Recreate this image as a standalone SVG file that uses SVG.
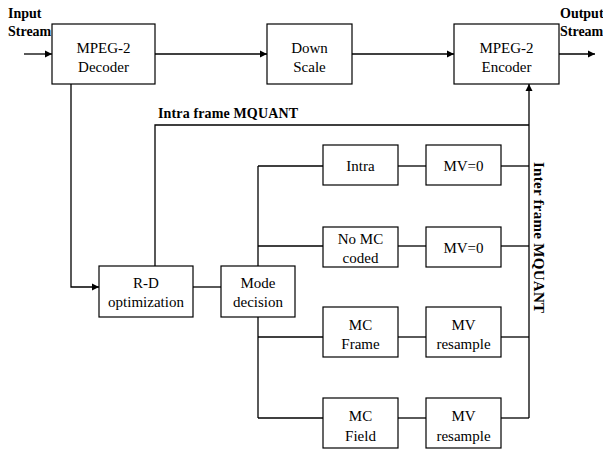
<svg xmlns="http://www.w3.org/2000/svg" width="603" height="451" viewBox="0 0 603 451">
<defs>
<marker id="arr" markerWidth="8" markerHeight="8" refX="7" refY="4" orient="auto" markerUnits="userSpaceOnUse">
<path d="M0,0.5 L7,4 L0,7.5 Z" fill="#000"/>
</marker>
<style>
.box{fill:#fff;stroke:#000;stroke-width:1.2}
.t{font-size:15px;fill:#000;text-anchor:middle}
.b{font-size:14px;font-weight:bold;fill:#000}
.ln{fill:none;stroke:#000;stroke-width:1.3}
</style>
</defs>
<rect width="603" height="451" fill="#fff"/>
<g id="connectors">
<line class="ln" x1="24" y1="54" x2="52" y2="54" marker-end="url(#arr)"/>
<line class="ln" x1="155" y1="54" x2="267" y2="54" marker-end="url(#arr)"/>
<line class="ln" x1="352" y1="54" x2="454" y2="54" marker-end="url(#arr)"/>
<line class="ln" x1="559" y1="54" x2="595" y2="54" marker-end="url(#arr)"/>
<polyline class="ln" points="71,84 71,287 99,287" marker-end="url(#arr)"/>
<line class="ln" x1="193" y1="287" x2="221" y2="287"/>
<polyline class="ln" points="155,266 155,125 529,125"/>
<line class="ln" x1="529" y1="418" x2="529" y2="84" marker-end="url(#arr)"/>
<line class="ln" x1="258" y1="166" x2="258" y2="418"/>
<line class="ln" x1="258" y1="166" x2="323" y2="166"/>
<line class="ln" x1="258" y1="246" x2="323" y2="246"/>
<line class="ln" x1="258" y1="337" x2="323" y2="337"/>
<line class="ln" x1="258" y1="418" x2="323" y2="418"/>
<line class="ln" x1="398" y1="166" x2="426" y2="166"/>
<line class="ln" x1="398" y1="246" x2="426" y2="246"/>
<line class="ln" x1="398" y1="337" x2="426" y2="337"/>
<line class="ln" x1="398" y1="418" x2="426" y2="418"/>
<line class="ln" x1="501" y1="166" x2="529" y2="166"/>
<line class="ln" x1="501" y1="246" x2="529" y2="246"/>
<line class="ln" x1="501" y1="337" x2="529" y2="337"/>
<line class="ln" x1="501" y1="418" x2="529" y2="418"/>
</g>
<g font-family="Liberation Serif, DejaVu Serif, serif">
<g id="labels">
<text class="b" x="8" y="18">Input</text>
<text class="b" x="8" y="36">Stream</text>
<text class="b" x="560" y="18">Output</text>
<text class="b" x="560" y="36">Stream</text>
<text class="b" x="158" y="118" textLength="140" lengthAdjust="spacing">Intra frame MQUANT</text>
<text class="b" transform="translate(534,162) rotate(90)" x="0" y="0" style="font-size:15px" textLength="151" lengthAdjust="spacing">Inter frame MQUANT</text>
</g>
<g id="decoder"><rect class="box" x="52" y="24" width="103" height="60"/><text class="t" x="103.5" y="53">MPEG-2</text><text class="t" x="103.5" y="72">Decoder</text></g>
<g id="downscale"><rect class="box" x="267" y="24" width="85" height="60"/><text class="t" x="309.5" y="53">Down</text><text class="t" x="309.5" y="72">Scale</text></g>
<g id="encoder"><rect class="box" x="454" y="24" width="105" height="60"/><text class="t" x="506.5" y="53">MPEG-2</text><text class="t" x="506.5" y="72">Encoder</text></g>
<g id="rd"><rect class="box" x="99" y="266" width="94" height="51"/><text class="t" x="146" y="288">R-D</text><text class="t" x="146" y="307">optimization</text></g>
<g id="mode"><rect class="box" x="221" y="266" width="74" height="51"/><text class="t" x="258" y="288">Mode</text><text class="t" x="258" y="307">decision</text></g>
<g id="intra"><rect class="box" x="323" y="145" width="75" height="40"/><text class="t" x="360.5" y="171">Intra</text></g>
<g id="mv0a"><rect class="box" x="426" y="145" width="75" height="40"/><text class="t" x="463.5" y="171">MV=0</text></g>
<g id="nomc"><rect class="box" x="323" y="227" width="75" height="40"/><text class="t" x="360.5" y="244">No MC</text><text class="t" x="360.5" y="263">coded</text></g>
<g id="mv0b"><rect class="box" x="426" y="227" width="75" height="40"/><text class="t" x="463.5" y="253">MV=0</text></g>
<g id="mcframe"><rect class="box" x="323" y="307" width="75" height="50"/><text class="t" x="360.5" y="330">MC</text><text class="t" x="360.5" y="349">Frame</text></g>
<g id="mvres1"><rect class="box" x="426" y="307" width="75" height="50"/><text class="t" x="463.5" y="330">MV</text><text class="t" x="463.5" y="349">resample</text></g>
<g id="mcfield"><rect class="box" x="323" y="398" width="75" height="50"/><text class="t" x="360.5" y="421">MC</text><text class="t" x="360.5" y="441">Field</text></g>
<g id="mvres2"><rect class="box" x="426" y="398" width="75" height="50"/><text class="t" x="463.5" y="421">MV</text><text class="t" x="463.5" y="441">resample</text></g>
</g>
</svg>
